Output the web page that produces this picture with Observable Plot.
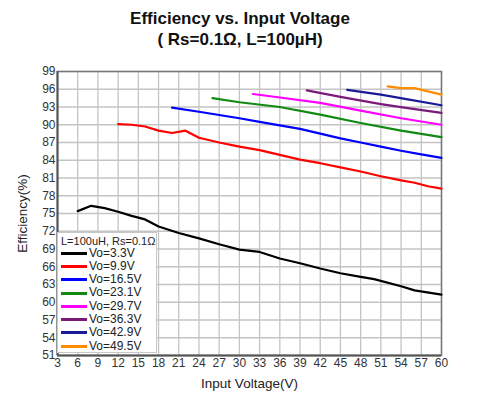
<!DOCTYPE html>
<html>
<head>
<meta charset="utf-8">
<script src="https://cdn.jsdelivr.net/npm/d3@7"></script>
<script src="https://cdn.jsdelivr.net/npm/@observablehq/plot@0.6"></script>
<style>
  body { margin: 0; background: #fff; font-family: "Liberation Sans", Arial, sans-serif; }
  #wrap { position: relative; width: 480px; height: 400px; }
  #title { height: 56px; box-sizing: border-box; padding-top: 8px; text-align: center;
           font-weight: bold; font-size: 17px; line-height: 21px; color: #111; }
  #legend { position: absolute; left: 57px; top: 232px; width: 100px; height: 121px;
            background: #fff; border: 1px solid #c8c8c8; box-sizing: border-box;
            font-size: 12px; line-height: 13.3px; color: #222; overflow: hidden; }
  #legend .hdr { font-size: 11px; padding: 2px 0 0 3px; height: 13.5px; box-sizing: border-box; line-height: 12px; }
  #legend .item { display: flex; align-items: center; height: 13.3px; }
  #legend .sw { width: 26px; height: 3px; margin: 0 2px 0 3px; flex: none; }
</style>
</head>
<body>
<div id="wrap">
  <div id="title">Efficiency vs. Input Voltage<br>( Rs=0.1Ω, L=100µH)</div>
  <div id="chart"></div>
  <div id="legend"></div>
</div>
<script>
// output voltage series
const seriesNames = ["Vo=3.3V", "Vo=9.9V", "Vo=16.5V", "Vo=23.1V", "Vo=29.7V", "Vo=36.3V", "Vo=42.9V", "Vo=49.5V"]
const seriesColors = ["#000000", "#ff0000", "#0000ff", "#128a12", "#ff00ff", "#7a1a7a", "#1a1a96", "#ff8c00"]

// input voltage (V) and efficiency (%)
const vin33 = [6, 8, 10, 12, 14, 16, 18, 21, 24, 27, 30, 33, 36, 39, 42, 45, 48, 50, 54, 56, 60]
const eff33 = [75.4, 76.3, 75.9, 75.3, 74.6, 74.0, 72.8, 71.7, 70.8, 69.8, 68.9, 68.5, 67.4, 66.6, 65.7, 64.9, 64.3, 63.9, 62.7, 62.0, 61.3]
const vin99 = [12, 14, 16, 18, 20, 22, 24, 27, 30, 33, 36, 39, 42, 45, 48, 51, 54, 56, 58, 60]
const eff99 = [90.1, 90.0, 89.7, 89.0, 88.6, 89.0, 87.8, 87.0, 86.3, 85.7, 84.9, 84.1, 83.5, 82.8, 82.1, 81.3, 80.6, 80.2, 79.6, 79.2]
const vin165 = [20, 24, 30, 33, 36, 39, 42, 45, 48, 51, 54, 57, 60]
const eff165 = [92.9, 92.2, 91.1, 90.5, 89.9, 89.3, 88.5, 87.7, 87.0, 86.3, 85.6, 85.0, 84.4]
const vin231 = [26, 30, 36, 42, 48, 54, 60]
const eff231 = [94.5, 93.8, 93.0, 91.7, 90.3, 89.0, 87.9]
const vin297 = [32, 36, 42, 48, 54, 60]
const eff297 = [95.2, 94.6, 93.7, 92.4, 91.1, 90.0]
const vin363 = [40, 45, 51, 55, 60]
const eff363 = [95.8, 94.7, 93.5, 92.8, 92.0]
const vin429 = [46, 51, 55, 60]
const eff429 = [95.9, 95.1, 94.3, 93.3]
const vin495 = [52, 54, 56, 60]
const eff495 = [96.5, 96.2, 96.2, 95.1]

const xTicks = [3, 6, 9, 12, 15, 18, 21, 24, 27, 30, 33, 36, 39, 42, 45, 48, 51, 54, 57, 60]
const yTicks = [51, 54, 57, 60, 63, 66, 69, 72, 75, 78, 81, 84, 87, 90, 93, 96, 99]

const vins = [vin33, vin99, vin165, vin231, vin297, vin363, vin429, vin495]
const effs = [eff33, eff99, eff165, eff231, eff297, eff363, eff429, eff495]
const rows = seriesNames.flatMap((name, i) =>
  vins[i].map((v, j) => ({ series: name, vin: v, eff: effs[i][j] })))

let chart = Plot.plot({
  width: 480,
  height: 344,
  marginTop: 15,
  marginLeft: 57,
  marginRight: 39,
  marginBottom: 45,
  style: { fontFamily: "'Liberation Sans', Arial, sans-serif", fontSize: "12px", color: "#333", background: "#fff" },
  x: { domain: [3, 60], ticks: xTicks, tickSize: 0, tickPadding: 3,
       label: "Input Voltage(V)", labelAnchor: "center", labelOffset: 32, labelArrow: "none" },
  y: { domain: [51, 99], ticks: yTicks, tickSize: 0, tickPadding: 2,
       label: "Efficiency(%)", labelAnchor: "center", labelOffset: 40, labelArrow: "none" },
  color: { domain: seriesNames, range: seriesColors },
  marks: [
    Plot.gridX(xTicks, { stroke: "#c4c4c4", strokeOpacity: 1, strokeWidth: 1.3 }),
    Plot.gridY(yTicks, { stroke: "#c4c4c4", strokeOpacity: 1, strokeWidth: 1.3 }),
    Plot.frame({ stroke: "#777", strokeWidth: 1.5 }),
    Plot.ruleX([3], { stroke: "#555", strokeWidth: 2 }),
    Plot.ruleY([51], { stroke: "#555", strokeWidth: 2 }),
    Plot.line(rows, { x: "vin", y: "eff", z: "series", stroke: "series", strokeWidth: 2.2 })
  ]
})

d3.select("#chart").append(() => chart)
d3.select(chart).selectAll("g[aria-label='x-axis label'] text, g[aria-label='y-axis label'] text")
  .style("font-size", "13.5px").style("fill", "#222")

// legend box, drawn over the plot area like the original
const legend = d3.select("#legend")
legend.append("div").attr("class", "hdr").text("L=100uH, Rs=0.1Ω")
seriesNames.forEach((name, i) => {
  const item = legend.append("div").attr("class", "item")
  item.append("div").attr("class", "sw").style("background", seriesColors[i])
  item.append("span").text(name)
})
</script>
</body>
</html>
